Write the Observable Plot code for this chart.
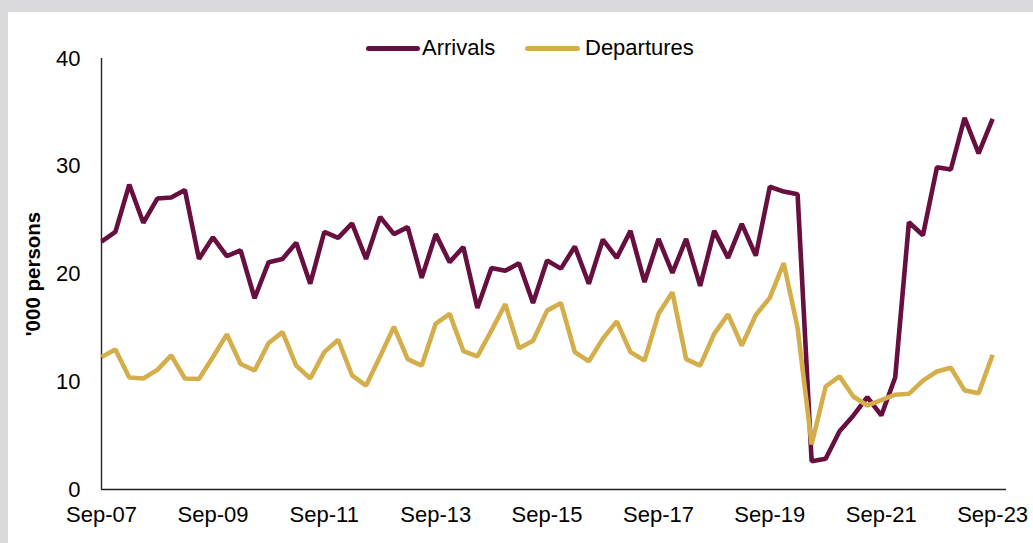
<!DOCTYPE html>
<html>
<head>
<meta charset="utf-8">
<script src="https://cdn.jsdelivr.net/npm/d3@7"></script>
<script src="https://cdn.jsdelivr.net/npm/@observablehq/plot@0.6"></script>
<style>
  html, body { margin: 0; padding: 0; }
  body { background: #dadadc; width: 1033px; height: 543px; overflow: hidden; position: relative;
         font-family: "Liberation Sans", Arial, sans-serif; }
  #panel { position: absolute; left: 8px; top: 12px; width: 1025px; height: 531px; background: #fff; }
  #chart { position: absolute; left: 0; top: 0; }
  .sw { position: absolute; height: 5px; border-radius: 2.5px; }
  .lt { position: absolute; font-size: 22px; line-height: 22px; color: #000; white-space: nowrap; }
  #ylab { position: absolute; left: 25px; top: 262px; transform: translate(-50%, -50%) rotate(-90deg);
          font-size: 20.5px; font-weight: bold; white-space: nowrap; color: #000; }
</style>
</head>
<body>
<div id="panel">
  <div id="chart"></div>
  <div class="sw" style="left:358px;top:34px;width:54px;background:#670f3f"></div>
  <div class="lt" style="left:414px;top:25px">Arrivals</div>
  <div class="sw" style="left:517px;top:34px;width:55px;background:#d5ae4c"></div>
  <div class="lt" style="left:577px;top:25px">Departures</div>
  <div id="ylab">'000 persons</div>
</div>
<script>
// Quarterly, Sep-07 .. Sep-23
const startQuarter = new Date(Date.UTC(2007, 8, 1));
const seriesNames = ["Arrivals", "Departures"];
const seriesColors = ["#670f3f", "#d5ae4c"];

const arrivals = [
  23.0, 23.9, 28.3, 24.75, 27.0, 27.1, 27.8, 21.4, 23.4, 21.65,
  22.2, 17.75, 21.1, 21.4, 22.9, 19.1, 23.9, 23.35, 24.7, 21.4,
  25.3, 23.7, 24.35, 19.65, 23.7, 21.1, 22.5, 16.85, 20.55, 20.3,
  21.0, 17.3, 21.25, 20.5, 22.55, 19.1, 23.2, 21.5, 24.0, 19.25,
  23.25, 20.1, 23.25, 18.9, 24.0, 21.5, 24.65, 21.7, 28.1, 27.65,
  27.4, 2.63, 2.85, 5.4, 6.85, 8.57, 6.87, 10.4, 24.8, 23.6,
  29.9, 29.7, 34.5, 31.2, 34.4
];
const departures = [
  12.3, 13.0, 10.4, 10.3, 11.1, 12.45, 10.3, 10.25, 12.3, 14.4,
  11.65, 11.05, 13.6, 14.6, 11.5, 10.3, 12.75, 13.9, 10.6, 9.65,
  12.35, 15.1, 12.1, 11.5, 15.4, 16.3, 12.85, 12.35, 14.75, 17.2,
  13.1, 13.8, 16.6, 17.3, 12.75, 11.9, 14.0, 15.6, 12.75, 11.97,
  16.3, 18.3, 12.1, 11.5, 14.45, 16.25, 13.36, 16.2, 17.8, 21.0,
  15.0, 4.18, 9.56, 10.5, 8.63, 7.8, 8.3, 8.8, 8.88, 10.1,
  10.95, 11.3, 9.2, 8.94, 12.5
];
const yTicks = [0, 10, 20, 30, 40];
const xTickLabels = ["Sep-07", "Sep-09", "Sep-11", "Sep-13", "Sep-15", "Sep-17", "Sep-19", "Sep-21", "Sep-23"];

const quarters = arrivals.map((_, i) => d3.utcMonth.offset(startQuarter, 3 * i));
const xTicks = xTickLabels.map((_, i) => d3.utcMonth.offset(startQuarter, 24 * i));
const labelMap = new Map(xTicks.map((d, i) => [+d, xTickLabels[i]]));
const xEnd = d3.utcMonth.offset(quarters[quarters.length - 1], 3);

const rows = [];
[arrivals, departures].forEach((vals, s) => {
  vals.forEach((v, i) => rows.push({series: seriesNames[s], date: quarters[i], value: v}));
});

const chart = Plot.plot({
  width: 1025,
  height: 531,
  marginLeft: 93,
  marginRight: 27,
  marginTop: 46,
  marginBottom: 54,
  style: {fontFamily: "'Liberation Sans', Arial, sans-serif", fontSize: "22px", color: "#000", background: "#fff"},
  x: {type: "utc", domain: [startQuarter, xEnd]},
  y: {domain: [0, 40]},
  marks: [
    Plot.axisY({ticks: yTicks, tickSize: 0, tickPadding: 21, label: null}),
    Plot.axisX({ticks: xTicks, tickSize: 0, tickPadding: 17, label: null, tickFormat: d => labelMap.get(+d)}),
    Plot.ruleX([startQuarter], {y1: 0, y2: 40, stroke: "#222", strokeWidth: 1.4}),
    Plot.ruleY([0], {stroke: "#222", strokeWidth: 1.6}),
    Plot.lineY(rows.filter(d => d.series === "Arrivals"), {x: "date", y: "value", stroke: seriesColors[0], strokeWidth: 4.6, strokeLinejoin: "miter", strokeLinecap: "butt"}),
    Plot.lineY(rows.filter(d => d.series === "Departures"), {x: "date", y: "value", stroke: seriesColors[1], strokeWidth: 4.6, strokeLinejoin: "miter", strokeLinecap: "butt"})
  ]
});
document.getElementById("chart").appendChild(chart);
</script>
</body>
</html>
